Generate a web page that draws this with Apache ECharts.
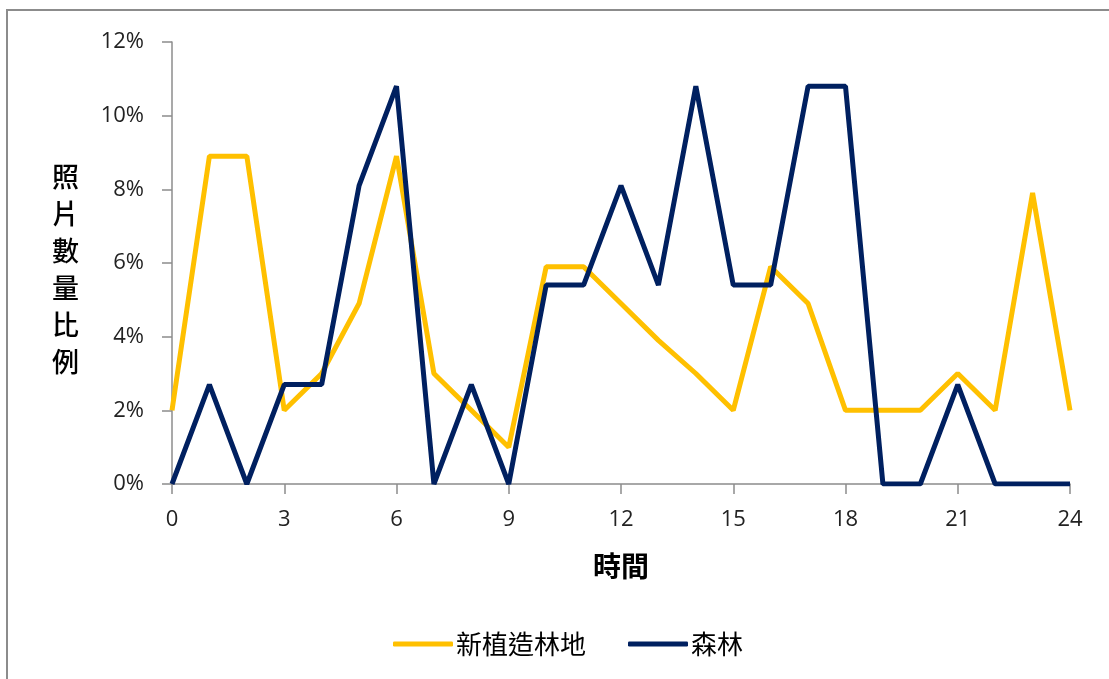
<!DOCTYPE html>
<html>
<head>
<meta charset="utf-8">
<script src="https://cdn.jsdelivr.net/npm/echarts@6/dist/echarts.min.js"></script>
<style>
  html, body { margin: 0; padding: 0; background: #fff; }
  #chart { width: 1109px; height: 679px; }
</style>
</head>
<body>
<div id="chart"></div>
<script>
// 時間 (hours 0-24)
const hours = ['0','1','2','3','4','5','6','7','8','9','10','11','12','13','14','15','16','17','18','19','20','21','22','23','24']
// 新植造林地 (%)
const plantation = [2.0, 8.9, 8.9, 2.0, 3.0, 4.9, 8.9, 3.0, 2.0, 1.0, 5.9, 5.9, 4.9, 3.9, 3.0, 2.0, 5.9, 4.9, 2.0, 2.0, 2.0, 3.0, 2.0, 7.9, 2.0]
// 森林 (%)
const forest = [0, 2.7, 0, 2.7, 2.7, 8.1, 10.8, 0, 2.7, 0, 5.4, 5.4, 8.1, 5.4, 10.8, 5.4, 5.4, 10.8, 10.8, 0, 0, 2.7, 0, 0, 0]

const labelFont = '"Open Sans", "Noto Sans CJK TC", sans-serif'
const cjkFont = '"Noto Sans CJK TC", sans-serif'

const chart = echarts.init(document.getElementById('chart'))
const option = {
  animation: false,
  backgroundColor: '#fff',
  graphic: {
    elements: [
      // 外框
      {
        type: 'rect',
        shape: { x: 7, y: 10, width: 1120, height: 700 },
        style: { fill: 'none', stroke: '#8c8c8c', lineWidth: 2 },
        silent: true
      },
      // y 軸標題 (直排)
      {
        type: 'text',
        left: 52,
        top: 158,
        style: {
          text: '照\n片\n數\n量\n比\n例',
          font: '500 27px ' + cjkFont,
          lineHeight: 37,
          fill: '#000'
        }
      }
    ]
  },
  legend: {
    top: 626,
    left: 388,
    itemWidth: 60,
    itemHeight: 5,
    itemGap: 42,
    icon: 'roundRect',
    textStyle: { fontSize: 26, fontFamily: cjkFont, color: '#000', padding: [0, 0, 0, -2] },
    data: ['新植造林地', '森林']
  },
  grid: {
    left: 172,
    right: 39,
    top: 42,
    bottom: 195,
    containLabel: false
  },
  xAxis: {
    type: 'category',
    data: hours,
    boundaryGap: false,
    name: '時間',
    nameLocation: 'middle',
    nameGap: 68,
    nameTextStyle: { fontSize: 28, fontWeight: 'bold', fontFamily: cjkFont, color: '#000' },
    axisLine: { lineStyle: { color: '#8c8c8c', width: 1.5 } },
    axisTick: { interval: 2, length: 10, lineStyle: { color: '#8c8c8c', width: 1.5 } },
    axisLabel: { interval: 2, margin: 25, fontSize: 22, fontFamily: labelFont, color: '#222' },
    splitLine: { show: false }
  },
  yAxis: {
    type: 'value',
    min: 0,
    max: 12,
    interval: 2,
    axisLine: { show: true, lineStyle: { color: '#8c8c8c', width: 1.5 } },
    axisTick: { show: true, length: 10, lineStyle: { color: '#8c8c8c', width: 1.5 } },
    axisLabel: { margin: 28, fontSize: 22, fontFamily: labelFont, color: '#222', formatter: '{value}%' },
    splitLine: { show: false }
  },
  series: [
    {
      name: '新植造林地',
      type: 'line',
      data: plantation,
      symbol: 'none',
      color: '#FFC000',
      lineStyle: { color: '#FFC000', width: 5 },
      z: 2
    },
    {
      name: '森林',
      type: 'line',
      data: forest,
      symbol: 'none',
      color: '#002060',
      lineStyle: { color: '#002060', width: 5 },
      z: 3
    }
  ]
}
chart.setOption(option)
</script>
</body>
</html>
